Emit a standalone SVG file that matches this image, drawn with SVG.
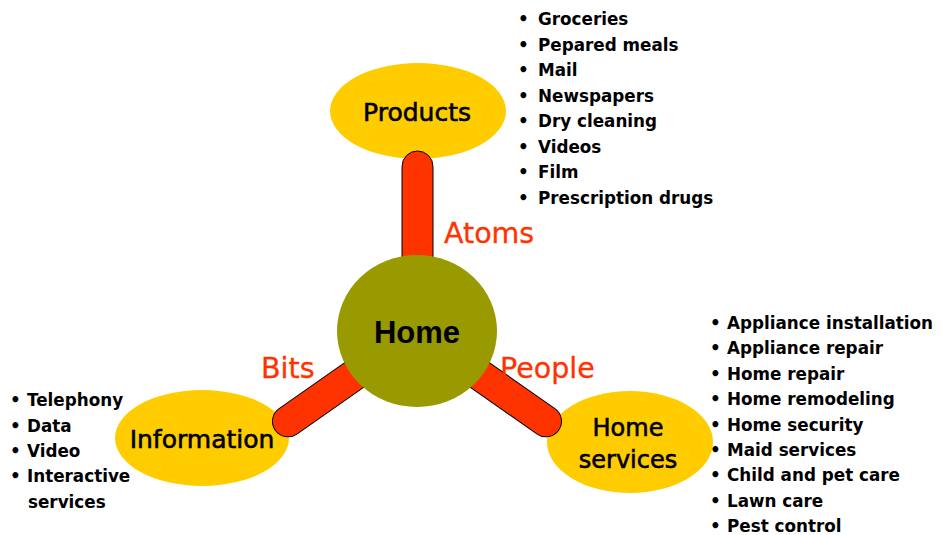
<svg xmlns="http://www.w3.org/2000/svg" width="946" height="535" viewBox="0 0 946 535">
<style>
.oval{fill:#FFCC00}
.bar{fill:#FF3300;stroke:#000;stroke-width:1}
.nl{font-family:"DejaVu Sans",Verdana,sans-serif;font-size:25px;fill:#000;stroke:#000;stroke-width:0.6;text-anchor:middle}
.lbl{font-family:"DejaVu Sans",Verdana,sans-serif;font-size:28.5px;fill:#FF3300;stroke:#FF3300;stroke-width:0.3}
.li{font-family:"DejaVu Sans",Verdana,sans-serif;font-size:16.8px;font-weight:bold;fill:#000}
</style>
<rect width="946" height="535" fill="#fff"/>
<g id="node-products"><ellipse class="oval" cx="418" cy="111" rx="88" ry="48"/><text class="nl" x="417" y="121">Products</text></g>
<g id="node-information"><ellipse class="oval" cx="202" cy="438" rx="87" ry="48"/><text class="nl" x="202" y="448">Information</text></g>
<g id="node-homeservices"><ellipse class="oval" cx="630" cy="442" rx="83" ry="51"/><text class="nl" x="628" y="436" style="font-size:24px">Home</text><text class="nl" x="628" y="468" style="font-size:24px">services</text></g>
<g id="connectors">
<rect class="bar" x="402" y="151" width="31" height="190" rx="15.5"/>
<rect class="bar" x="0" y="-15.5" width="173" height="31" rx="15.5" transform="translate(417 331) rotate(35)"/>
<rect class="bar" x="0" y="-15.5" width="173" height="31" rx="15.5" transform="translate(417 331) rotate(145)"/>
</g>
<g id="node-home"><ellipse cx="417" cy="331" rx="80" ry="76" fill="#999900"/><text x="417" y="343" text-anchor="middle" font-family="'Liberation Sans',Arial,sans-serif" font-weight="bold" font-size="31">Home</text></g>
<g id="labels">
<text class="lbl" x="444" y="243">Atoms</text>
<text class="lbl" x="261" y="378">Bits</text>
<text class="lbl" x="500" y="378">People</text>
</g>
<g id="list-products" class="li">
<text x="518" y="25">•</text><text x="538" y="25">Groceries</text>
<text x="518" y="51">•</text><text x="538" y="51">Pepared meals</text>
<text x="518" y="76">•</text><text x="538" y="76">Mail</text>
<text x="518" y="102">•</text><text x="538" y="102">Newspapers</text>
<text x="518" y="127">•</text><text x="538" y="127">Dry cleaning</text>
<text x="518" y="153">•</text><text x="538" y="153">Videos</text>
<text x="518" y="178">•</text><text x="538" y="178">Film</text>
<text x="518" y="204">•</text><text x="538" y="204">Prescription drugs</text>
</g>
<g id="list-homeservices" class="li">
<text x="710" y="329">•</text><text x="727" y="329">Appliance installation</text>
<text x="710" y="354">•</text><text x="727" y="354">Appliance repair</text>
<text x="710" y="380">•</text><text x="727" y="380">Home repair</text>
<text x="710" y="405">•</text><text x="727" y="405">Home remodeling</text>
<text x="710" y="431">•</text><text x="727" y="431">Home security</text>
<text x="710" y="456">•</text><text x="727" y="456">Maid services</text>
<text x="710" y="481">•</text><text x="727" y="481">Child and pet care</text>
<text x="710" y="507">•</text><text x="727" y="507">Lawn care</text>
<text x="710" y="532">•</text><text x="727" y="532">Pest control</text>
</g>
<g id="list-information" class="li">
<text x="10" y="406">•</text><text x="27" y="406">Telephony</text>
<text x="10" y="432">•</text><text x="27" y="432">Data</text>
<text x="10" y="457">•</text><text x="27" y="457">Video</text>
<text x="10" y="482">•</text><text x="27" y="482">Interactive</text>
<text x="28" y="508">services</text>
</g>
</svg>
